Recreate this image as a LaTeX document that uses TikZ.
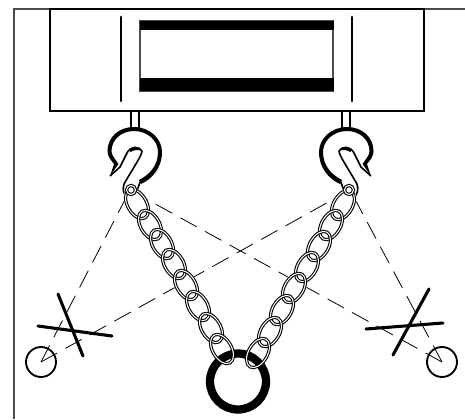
\documentclass[tikz,border=0pt]{standalone}
\tikzset{
  frameline/.style={draw=black!70,line width=0.8pt},
  heavy/.style={draw=black,line width=1.9pt},
  stroke/.style={draw=black,line width=2.2pt,line cap=round},
  thinhook/.style={draw=black,line width=1.2pt,line join=round},
  dashline/.style={draw=black,line width=0.6pt,dash pattern=on 14pt off 7pt},
  chainlink/.style={draw=black,line width=0.8pt,double=white,double distance=0.8pt},
  linkhalo/.style={fill=white,draw=white,line width=3pt},
  gauge/.style={draw=black,line width=1.4pt,fill=white},
}
\newcommand{\hookshape}{
  \draw[black,line width=1.4pt] (131,111)--(131,128) (139,111)--(139,128);
  \fill[black]
    (110,176) -- (114,164)
    .. controls (110,159) and (107.5,156) .. (107.5,151)
    .. controls (107.5,137) and (119,127) .. (134,127)
    .. controls (150,127) and (162,139) .. (162,152)
    .. controls (162,168) and (152,179) .. (141,184)
    -- (139,180)
    .. controls (149,175) and (158,166) .. (158,152)
    .. controls (158,141) and (148,131) .. (134,131)
    .. controls (121,131) and (111.5,140) .. (111.5,151)
    .. controls (111.5,155) and (115,159) .. (118.5,164)
    -- cycle;
  \draw[thinhook]
    (110,176) -- (120,167) -- (127,153)
    .. controls (130,146) and (140,146) .. (142,151)
    .. controls (142,155) and (135,165) .. (124,184)
    .. controls (122,190) and (124,195) .. (127,197);
  \draw[thinhook] (140,182) .. controls (139,186) and (137,190) .. (135,196);
  \fill[black] (129,149.5) .. controls (133,145.5) and (138,145.5) .. (141.5,150.5) .. controls (137,149.5) and (134,150) .. (130.5,152) -- cycle;
}
\begin{document}
\begin{tikzpicture}[x=0.75pt,y=-0.75pt]
\useasboundingbox (0,0) rectangle (465,419);
% frame
\draw[frameline] (14,419) -- (14,9) -- (465,9);
% carrier
\draw[heavy,fill=white] (50,9) rectangle (424,111);
\draw[stroke] (121,17) -- (121,101);
\draw[stroke] (352,17) -- (352,101);
\draw[draw=black!70,line width=0.8pt] (140,21) rectangle (333,91);
\fill[black] (139.5,21) rectangle (333.5,30);
\fill[black] (139.5,78) rectangle (333.5,91);
% dashed
\coordinate (hl) at (130,190);
\coordinate (hr) at (350,190);
\coordinate (gl) at (41,362);
\coordinate (gr) at (442,362);
\draw[gauge] (gl) circle[radius=15];
\draw[gauge] (gr) circle[radius=15];
\draw[dashline] (gl) -- (hl);
\draw[dashline] (gl) -- (hr);
\draw[dashline] (gr) -- (hr);
\draw[dashline] (gr) -- (hl);
% crosses
\foreach \a/\b/\c/\d in {58/84/83/146,38/116/112/126,429/79/393/145,366/119/443/113}
  \draw[black,line width=2.3pt,line cap=round] (\a,\b+210) -- (\c,\d+210);
% hooks
\hookshape
\begin{scope}[xscale=-1,shift={(-481,0)}]
\hookshape
\end{scope}
% chain link halos
\foreach \x/\y in {137/204,150/225,162/244,174/264,186/285,198/306,211/328,222/349}
  \draw[linkhalo,rotate around={-60:(\x,\y)}] (\x,\y) ellipse[x radius=16,y radius=9.5];
\foreach \x/\y in {343/205,331/225,319/246,307/267,294/288,282/310,270/332,258/353}
  \draw[linkhalo,rotate around={60:(\x,\y)}] (\x,\y) ellipse[x radius=16,y radius=9.5];
% ring
\draw[black,line width=6.2pt] (238,381.5) circle[radius=28];
% chain links
\foreach \x/\y in {137/204,150/225,162/244,174/264,186/285,198/306,211/328,222/349}
  \draw[chainlink,rotate around={-60:(\x,\y)}] (\x,\y) ellipse[x radius=16,y radius=9.5];
\foreach \x/\y in {343/205,331/225,319/246,307/267,294/288,282/310,270/332,258/353}
  \draw[chainlink,rotate around={60:(\x,\y)}] (\x,\y) ellipse[x radius=16,y radius=9.5];
% eye rings
\draw[chainlink,fill=white] (131,190) circle[radius=4.5];
\draw[chainlink,fill=white] (349,190) circle[radius=4.5];
\end{tikzpicture}
\end{document}
